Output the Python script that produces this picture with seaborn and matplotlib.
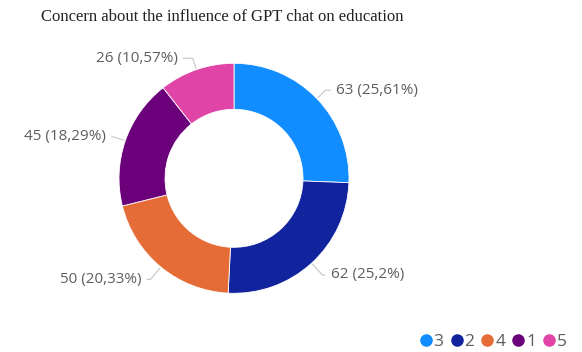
import numpy as np
import matplotlib
matplotlib.use("Agg")
import matplotlib.pyplot as plt
from matplotlib.lines import Line2D
import seaborn as sns

# ---- data ----
categories = ["3", "2", "4", "1", "5"]
counts = [63, 62, 50, 45, 26]
pct_labels = ["25,61%", "25,2%", "20,33%", "18,29%", "10,57%"]
colors = ["#118DFF", "#12239E", "#E66C37", "#6B007B", "#E044A7"]
title = "Concern about the influence of GPT chat on education"

sns.set_theme(style="white")
plt.rcParams["font.family"] = ["Open Sans", "DejaVu Sans"]

W, H = 582, 352
fig = plt.figure(figsize=(W / 100, H / 100), dpi=100)
ax = fig.add_axes([0, 0, 1, 1])

cx, cy, R, ring = 234.0, H - 178.3, 115.0, 46.0
palette = sns.color_palette(colors)
wedges, _ = ax.pie(counts, colors=palette, startangle=90, counterclock=False,
                   center=(cx, cy), radius=R,
                   wedgeprops=dict(width=ring, linewidth=0.6, edgecolor="white"))
ax.set_xlim(0, W)
ax.set_ylim(0, H)
ax.set_aspect("auto")
ax.axis("off")

for w, n, p in zip(wedges, counts, pct_labels):
    ang = np.deg2rad((w.theta1 + w.theta2) / 2)
    px, py = cx + R * np.cos(ang), cy + R * np.sin(ang)
    side = 1 if np.cos(ang) >= 0 else -1
    s = np.sin(ang)
    tx = px + side * 19
    ty = py + s * (12 if s > 0 else 16)
    ax.annotate(f"{n} ({p})", xy=(px, py), xytext=(tx, ty),
                ha="left" if side > 0 else "right", va="center",
                fontsize=11, color="#605E5C",
                arrowprops=dict(arrowstyle="-", color="#C8C6C4", lw=0.8,
                                shrinkA=1.5, shrinkB=1,
                                connectionstyle=f"angle,angleA=0,angleB={np.rad2deg(ang):.1f}"))

fig.text(41 / W, 1 - 17 / H, title, family="Liberation Serif", fontsize=12,
         color="#222222", ha="left", va="center")

handles = [Line2D([], [], marker="o", linestyle="", markersize=8,
                  markerfacecolor=c, markeredgecolor=c) for c in colors]
fig.legend(handles, categories, loc="lower right", bbox_to_anchor=(0.995, -0.03),
           ncol=5, frameon=False, fontsize=12.5, handletextpad=0.05,
           columnspacing=0.35, handlelength=0.8, labelcolor="#605E5C",
           borderaxespad=0.3)

fig.savefig("out.png", dpi=100, facecolor="white")
